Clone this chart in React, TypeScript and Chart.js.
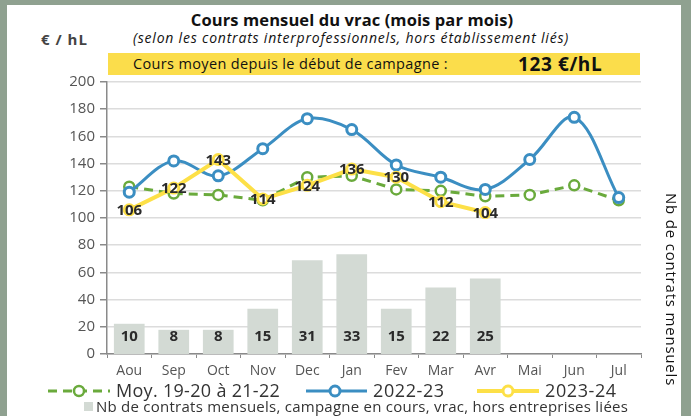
import React, { useEffect, useRef } from "react";
import { Chart, registerables } from "chart.js";

Chart.register(...registerables);

const categories = ["Aou", "Sep", "Oct", "Nov", "Dec", "Jan", "Fev", "Mar", "Avr", "Mai", "Jun", "Jul"];
const moyenne = [123, 118, 117, 113, 130, 131, 121, 120, 116, 117, 124, 113];
const serie2223 = [119, 142, 131, 151, 173, 165, 139, 130, 121, 143, 174, 115];
const serie2324 = [106, 122, 143, 114, 124, 136, 130, 112, 104, null, null, null];
const contrats = [10, 8, 8, 15, 31, 33, 15, 22, 25, null, null, null];
const yTicks = [0, 20, 40, 60, 80, 100, 120, 140, 160, 180, 200];

const FONT = "'Open Sans', sans-serif";
const BLUE = "#3b8ec2";
const GREEN = "#6aaa3c";
const YELLOW = "#fde047";
const BAR = "#d3dad4";

const labelPlugin = {
  id: "valueLabels",
  afterDatasetsDraw(chart: any) {
    const ctx = chart.ctx;
    ctx.save();
    ctx.font = `bold 15px ${FONT}`;
    ctx.fillStyle = "#2a2a2a";
    ctx.textAlign = "center";
    ctx.textBaseline = "middle";
    const barMeta = chart.getDatasetMeta(0);
    barMeta.data.forEach((el: any, i: number) => {
      const v = contrats[i];
      if (v == null) return;
      ctx.fillText(String(v), el.x, el.base - 17);
    });
    const yMeta = chart.getDatasetMeta(3);
    yMeta.data.forEach((el: any, i: number) => {
      const v = serie2324[i];
      if (v == null) return;
      ctx.fillText(String(v), el.x, el.y + 1);
    });
    ctx.restore();
  },
};

export default function App() {
  const ref = useRef<HTMLCanvasElement | null>(null);
  useEffect(() => {
    if (!ref.current) return;
    const chart = new Chart(ref.current, {
      type: "bar",
      data: {
        labels: categories,
        datasets: [
          {
            type: "bar",
            label: "Nb de contrats",
            data: contrats as any,
            backgroundColor: BAR,
            yAxisID: "y2",
            barPercentage: 0.69,
            categoryPercentage: 1,
            order: 10,
          },
          {
            type: "line",
            label: "Moy. 19-20 à 21-22",
            data: moyenne,
            borderColor: GREEN,
            borderWidth: 3,
            borderDash: [9, 6],
            pointRadius: 5,
            pointBorderWidth: 2.5,
            pointBackgroundColor: "#ffffff",
            pointBorderColor: GREEN,
            tension: 0,
            yAxisID: "y",
            order: 3,
          },
          {
            type: "line",
            label: "2022-23",
            data: serie2223,
            borderColor: BLUE,
            borderWidth: 3,
            pointRadius: 5,
            pointBorderWidth: 3,
            pointBackgroundColor: "#ffffff",
            pointBorderColor: BLUE,
            tension: 0.35,
            yAxisID: "y",
            order: 2,
          },
          {
            type: "line",
            label: "2023-24",
            data: serie2324 as any,
            borderColor: YELLOW,
            borderWidth: 4,
            pointRadius: 5,
            pointBorderWidth: 3,
            pointBackgroundColor: "#ffffff",
            pointBorderColor: YELLOW,
            tension: 0,
            yAxisID: "y",
            order: 1,
          },
        ],
      },
      options: {
        responsive: false,
        animation: false,
        layout: { padding: { top: 82, right: 50, left: 0, bottom: 0 } },
        plugins: { legend: { display: false }, tooltip: { enabled: false }, title: { display: false } },
        scales: {
          x: {
            offset: true,
            grid: { offset: true, drawOnChartArea: false, drawTicks: true, tickLength: 4, tickColor: "#8a8a8a" },
            border: { color: "#8a8a8a", width: 1.5 },
            ticks: { color: "#555555", font: { family: FONT, size: 14 }, padding: 5, maxRotation: 0 },
            afterFit: (s: any) => { s.height = 62; },
          },
          y: {
            min: 0,
            max: 200,
            afterBuildTicks: (s: any) => { s.ticks = yTicks.map((v) => ({ value: v })); },
            grid: { color: "#dcdcdc", lineWidth: 1.5, tickLength: 7, tickColor: "#8a8a8a" },
            border: { color: "#8a8a8a", width: 1.5 },
            ticks: { color: "#555555", font: { family: FONT, size: 15 }, padding: 5 },
            afterFit: (s: any) => { s.width = 107; },
          },
          y2: {
            display: false,
            min: 0,
            max: 90,
            position: "right",
          },
        },
      },
      plugins: [labelPlugin],
    });
    return () => chart.destroy();
  }, []);

  const abs = (o: any) => ({ position: "absolute", ...o } as React.CSSProperties);

  return (
    <div style={abs({ left: 0, top: 0, width: 691, height: 416, background: "#8fa190", fontFamily: FONT, overflow: "hidden" })}>
      <div style={abs({ left: 7, top: 5, width: 674, height: 411, background: "#ffffff" })} />
      <div style={abs({ left: 0, top: 8, width: 704, textAlign: "center", fontWeight: 700, fontSize: 16.5, letterSpacing: 0.1, color: "#111" })}>
        Cours mensuel du vrac (mois par mois)
      </div>
      <div style={abs({ left: 0, top: 28, width: 702, textAlign: "center", fontStyle: "italic", fontSize: 14, letterSpacing: 0.8, color: "#111", whiteSpace: "nowrap" })}>
        (selon les contrats interprofessionnels, hors établissement liés)
      </div>
      <div style={abs({ left: 41, top: 29, fontWeight: 700, fontSize: 15, letterSpacing: 1, color: "#444", whiteSpace: "nowrap" })}>€ / hL</div>
      <div style={abs({ left: 108, top: 53, width: 532, height: 22, background: "#fbdd4b" })}>
        <span style={abs({ left: 25, top: 1, fontSize: 14.5, letterSpacing: 0.35, color: "#111", whiteSpace: "nowrap" })}>Cours moyen depuis le début de campagne :</span>
        <span style={abs({ left: 410, top: -2, fontSize: 19, fontWeight: 700, letterSpacing: 0.6, color: "#111", whiteSpace: "nowrap" })}>123 €/hL</span>
      </div>
      <canvas ref={ref} width={691} height={416} style={abs({ left: 0, top: 0, width: 691, height: 416 })} />
      <div style={abs({ left: 662, top: 193, writingMode: "vertical-rl", fontSize: 15, letterSpacing: 0.8, color: "#111", whiteSpace: "nowrap" })}>
        Nb de contrats mensuels
      </div>
      <svg style={abs({ left: 0, top: 381, width: 691, height: 20 })} width={691} height={20}>
        <line x1={48} y1={10} x2={110} y2={10} stroke={GREEN} strokeWidth={3} strokeDasharray="9 6" />
        <circle cx={79} cy={10} r={5} fill="#fff" stroke={GREEN} strokeWidth={2.5} />
        <line x1={306} y1={10} x2={367} y2={10} stroke={BLUE} strokeWidth={3} />
        <circle cx={335} cy={10} r={5} fill="#fff" stroke={BLUE} strokeWidth={3} />
        <line x1={477} y1={10} x2={539} y2={10} stroke={YELLOW} strokeWidth={4} />
        <circle cx={508} cy={10} r={5} fill="#fff" stroke={YELLOW} strokeWidth={3} />
      </svg>
      <div style={abs({ left: 116, top: 378, fontSize: 18, letterSpacing: 0.3, color: "#333", whiteSpace: "nowrap" })}>Moy. 19-20 à 21-22</div>
      <div style={abs({ left: 373, top: 378, fontSize: 18, letterSpacing: 0.6, color: "#333", whiteSpace: "nowrap" })}>2022-23</div>
      <div style={abs({ left: 545, top: 378, fontSize: 18, letterSpacing: 0.6, color: "#333", whiteSpace: "nowrap" })}>2023-24</div>
      <div style={abs({ left: 84, top: 402, width: 9, height: 9, background: BAR })} />
      <div style={abs({ left: 96, top: 396, fontSize: 15, letterSpacing: 0.25, color: "#333", whiteSpace: "nowrap" })}>
        Nb de contrats mensuels, campagne en cours, vrac, hors entreprises liées
      </div>
    </div>
  );
}
